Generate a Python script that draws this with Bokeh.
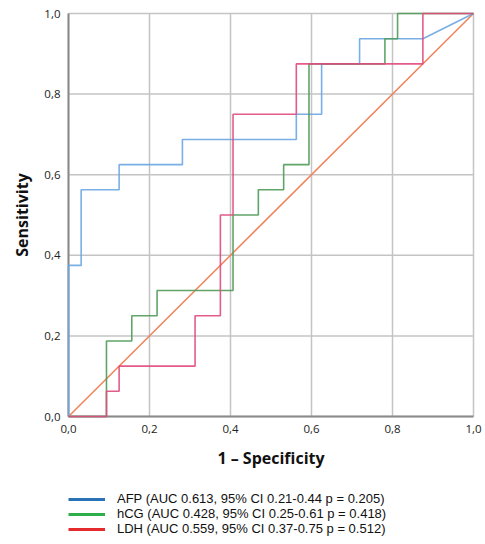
import math
from bokeh.plotting import figure
from bokeh.models import Legend, LegendItem, Range1d
from bokeh.core.properties import value
from bokeh.embed import file_html
from bokeh.resources import INLINE

# ROC data (1 - specificity, sensitivity)
afp_x = [0.0, 0.0, 0.03125, 0.03125, 0.125, 0.125, 0.28125, 0.28125, 0.5625, 0.5625, 0.625, 0.625, 0.71875, 0.71875, 0.875, 1.0]
afp_y = [0.0, 0.375, 0.375, 0.5625, 0.5625, 0.625, 0.625, 0.6875, 0.6875, 0.75, 0.75, 0.875, 0.875, 0.9375, 0.9375, 1.0]

hcg_x = [0.0, 0.09375, 0.09375, 0.15625, 0.15625, 0.21875, 0.21875, 0.40625, 0.40625, 0.46875, 0.46875, 0.53125, 0.53125, 0.59375, 0.59375, 0.78125, 0.78125, 0.8125, 0.8125, 1.0]
hcg_y = [0.0, 0.0, 0.1875, 0.1875, 0.25, 0.25, 0.3125, 0.3125, 0.5, 0.5, 0.5625, 0.5625, 0.625, 0.625, 0.875, 0.875, 0.9375, 0.9375, 1.0, 1.0]

ldh_x = [0.0, 0.09375, 0.09375, 0.125, 0.125, 0.3125, 0.3125, 0.375, 0.375, 0.40625, 0.40625, 0.5625, 0.5625, 0.875, 0.875, 1.0]
ldh_y = [0.0, 0.0, 0.0625, 0.0625, 0.125, 0.125, 0.25, 0.25, 0.5, 0.5, 0.75, 0.75, 0.875, 0.875, 1.0, 1.0]

ref_x = [0.0, 1.0]
ref_y = [0.0, 1.0]

ticks = [0.0, 0.2, 0.4, 0.6, 0.8, 1.0]
tick_text = ["0,0", "0,2", "0,4", "0,6", "0,8", "1,0"]

x_title = "1 \u2013 Specificity"
y_title = "Sensitivity"

legend_labels = [
    "AFP (AUC 0.613, 95% CI 0.21-0.44 p = 0.205)",
    "hCG (AUC 0.428, 95% CI 0.25-0.61 p = 0.418)",
    "LDH (AUC 0.559, 95% CI 0.37-0.75 p = 0.512)",
]
legend_colors = ["#2a72b8", "#2fae4c", "#e52a2e"]

# canvas geometry (px): whole canvas is the plotting frame
W, H = 485, 540
x0_px, x1_px = 68, 473      # where 0 and 1 fall horizontally
y1_px, y0_px = 13, 416      # where 1 and 0 fall vertically (from top)
ux = x1_px - x0_px
uy = y0_px - y1_px
x_range = Range1d(-x0_px / ux, (W - x0_px) / ux)
y_range = Range1d(-(H - y0_px) / uy, 1 + y1_px / uy)

p = figure(width=W, height=H, output_backend="svg", toolbar_location=None,
           x_range=x_range, y_range=y_range,
           x_axis_location=None, y_axis_location=None, min_border=0)
p.outline_line_color = None
for g in p.grid:
    g.visible = False

grid_col = "#c4c4c4"
axis_col = "#8a8a8a"
n = len(ticks)
lo, hi = ticks[0], ticks[-1]

# grid lines over the unit square
p.segment(x0=ticks, y0=[lo] * n, x1=ticks, y1=[hi] * n, line_color=grid_col, line_width=1.5)
p.segment(x0=[lo] * n, y0=ticks, x1=[hi] * n, y1=ticks, line_color=grid_col, line_width=1.5)

# axis lines
p.line([lo, hi], [lo, lo], line_color=axis_col, line_width=2)
p.line([lo, lo], [lo, hi], line_color=axis_col, line_width=2)

tick_font = dict(text_font=value("Open Sans"), text_font_size="11.5px", text_color="#222222")
title_font = dict(text_font=value("Open Sans"), text_font_style="bold",
                  text_font_size="16px", text_color="#111111")

# x tick labels + title
p.text(x=ticks, y=[lo] * n, text=tick_text, y_offset=12,
       text_align="center", text_baseline="middle", **tick_font)
p.text(x=[(lo + hi) / 2], y=[lo], text=[x_title], y_offset=41,
       text_align="center", text_baseline="middle", **title_font)

# y tick labels + title
p.text(x=[lo] * n, y=ticks, text=tick_text, x_offset=-8,
       text_align="right", text_baseline="middle", **tick_font)
p.text(x=[lo], y=[(lo + hi) / 2], text=[y_title], x_offset=-47, angle=math.pi / 2,
       text_align="center", text_baseline="middle", **title_font)

# curves
p.line(ref_x, ref_y, line_color="#f0835a", line_width=1.5)
p.line(afp_x, afp_y, line_color="#6aa6e2", line_width=1.6, line_alpha=0.9)
p.line(hcg_x, hcg_y, line_color="#4f9a58", line_width=1.6, line_alpha=0.9)
p.line(ldh_x, ldh_y, line_color="#e04a7c", line_width=1.6, line_alpha=0.9)

# legend swatch renderers (outside the visible range)
items = []
for lab, col in zip(legend_labels, legend_colors):
    r = p.line([-5, -5], [-5, -5], line_color=col, line_width=3)
    items.append(LegendItem(label=lab, renderers=[r]))

legend = Legend(items=items, location=(68, 4))
legend.padding = 0
legend.margin = 0
legend.spacing = 0
legend.border_line_color = None
legend.background_fill_alpha = 0
legend.glyph_width = 37
legend.glyph_height = 14
legend.label_height = 14
legend.label_standoff = 12
legend.label_text_font = "Liberation Sans"
legend.label_text_font_size = "13px"
legend.label_text_color = "#111111"
p.add_layout(legend, "center")

open("out.html", "w").write(file_html(p, INLINE))
